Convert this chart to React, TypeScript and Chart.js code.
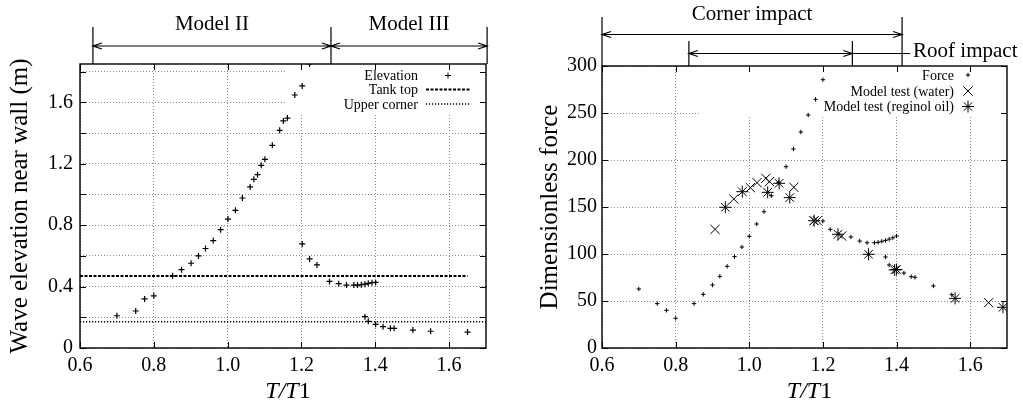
import React, { useEffect, useRef } from 'react';
import { Chart, registerables } from 'chart.js';
Chart.register(...registerables);

const FONT = "'Liberation Serif', 'Times New Roman', serif";

// ---------- shared axis ----------
const tRange = [0.6, 1.7];
const tTicks = [0.6, 0.8, 1.0, 1.2, 1.4, 1.6];

// ---------- left chart: wave elevation ----------
const elevTicks = [0, 0.2, 0.4, 0.6, 0.8, 1.0, 1.2, 1.4, 1.6, 1.8];
const elevLabelled = [0, 0.4, 0.8, 1.2, 1.6];
const elevRange = [0, 1.85];
const elevT = [0.70, 0.751, 0.775, 0.80, 0.851, 0.875, 0.901, 0.921, 0.940, 0.961, 0.981, 1.001, 1.021, 1.040, 1.061, 1.071, 1.081, 1.091, 1.101, 1.121, 1.141, 1.151, 1.162, 1.182, 1.202, 1.222, 1.202, 1.222, 1.242, 1.276, 1.301, 1.322, 1.342, 1.352, 1.362, 1.372, 1.381, 1.391, 1.401, 1.372, 1.381, 1.401, 1.421, 1.441, 1.451, 1.502, 1.55, 1.65];
const elevV = [0.21, 0.241, 0.32, 0.34, 0.47, 0.51, 0.552, 0.60, 0.648, 0.70, 0.771, 0.84, 0.897, 0.977, 1.049, 1.099, 1.129, 1.19, 1.229, 1.32, 1.418, 1.479, 1.498, 1.648, 1.707, 1.85, 0.678, 0.58, 0.541, 0.434, 0.419, 0.41, 0.41, 0.41, 0.412, 0.416, 0.421, 0.425, 0.427, 0.204, 0.174, 0.154, 0.139, 0.128, 0.128, 0.117, 0.109, 0.104];
const tankTopT = [0.6, 1.65];
const tankTopLevel = 0.469;
const upperCornerT = [0.6, 1.7];
const upperCornerLevel = 0.171;
const modelIIRange = [0.635, 1.28];
const modelIIIRange = [1.28, 1.703];

// ---------- right chart: dimensionless force ----------
const forceTicks = [0, 50, 100, 150, 200, 250, 300];
const forceRange = [0, 300];
const forceT = [0.70, 0.75, 0.775, 0.80, 0.85, 0.875, 0.90, 0.92, 0.94, 0.96, 0.98, 1.00, 1.02, 1.04, 1.06, 1.08, 1.10, 1.12, 1.14, 1.16, 1.18, 1.20, 1.20, 1.22, 1.276, 1.30, 1.32, 1.34, 1.35, 1.36, 1.37, 1.38, 1.39, 1.40, 1.37, 1.38, 1.42, 1.44, 1.45, 1.50, 1.55];
const forceV = [62.8, 47.2, 40.1, 31.6, 47.2, 57.1, 67, 76.2, 86.9, 97.2, 107.4, 118.8, 131.9, 145, 162, 176, 192.9, 211.7, 229.8, 247.9, 264.5, 285.4, 135.1, 126.2, 118.1, 113.8, 112, 112, 112.4, 113.5, 114.5, 115.8, 117.3, 119.1, 96.8, 88.3, 79.8, 75.9, 75.2, 66, 56.7];
const waterT = [0.907, 0.958, 1.003, 1.021, 1.045, 1.055, 1.121, 1.176, 1.185, 1.251, 1.65];
const waterV = [126.2, 158.5, 170.6, 175.9, 180.5, 177, 171, 135.4, 135.4, 119.1, 48.2];
const oilT = [0.935, 0.981, 1.05, 1.081, 1.11, 1.176, 1.241, 1.324, 1.395, 1.40, 1.559, 1.689];
const oilV = [149.7, 166.3, 165.6, 175.2, 160, 135.4, 121, 99.7, 83, 83.5, 52.8, 43.3];
const cornerRange = [0.6, 1.415];
const roofRange = [0.836, 1.28];

const pts = (xs: number[], ys: number[]) => xs.map((x, i) => ({ x, y: ys[i] }));

function marker(ctx: CanvasRenderingContext2D, style: string, x: number, y: number, r: number) {
  ctx.beginPath();
  if (style === 'cross' || style === 'star') {
    ctx.moveTo(x - r, y); ctx.lineTo(x + r, y);
    ctx.moveTo(x, y - r); ctx.lineTo(x, y + r);
  }
  if (style === 'crossRot' || style === 'star') {
    const d = r * Math.SQRT1_2;
    ctx.moveTo(x - d, y - d); ctx.lineTo(x + d, y + d);
    ctx.moveTo(x - d, y + d); ctx.lineTo(x + d, y - d);
  }
  ctx.stroke();
}

function arrow(ctx: CanvasRenderingContext2D, x1: number, x2: number, y: number) {
  const hl = 9, hw = 3;
  ctx.beginPath();
  ctx.moveTo(x1, y); ctx.lineTo(x2, y);
  ctx.moveTo(x1 + hl, y - hw); ctx.lineTo(x1, y); ctx.lineTo(x1 + hl, y + hw);
  ctx.moveTo(x2 - hl, y - hw); ctx.lineTo(x2, y); ctx.lineTo(x2 - hl, y + hw);
  ctx.stroke();
}

type LegendItem = { label: string; kind: string; r?: number; dash?: number[]; lw?: number };

type Cfg = {
  id: string;
  box: { w: number; h: number };
  legendTextRight: number; // offset from chartArea.right
  legendMarkerX: number; // offset from chartArea.right
  legendRows: number[]; // y offsets from chartArea.top
  legend: LegendItem[];
  yTitle: string;
  yTitleX: number;
  annotate: (chart: any) => void;
};

function makePlugin(cfg: Cfg) {
  return {
    id: 'frame_' + cfg.id,
    beforeDatasetsDraw(chart: any) {
      const { ctx, chartArea: a } = chart;
      ctx.save();
      ctx.fillStyle = '#ffffff';
      ctx.fillRect(a.right - cfg.box.w, a.top, cfg.box.w, cfg.box.h);
      ctx.restore();
    },
    afterDatasetsDraw(chart: any) {
      const { ctx, chartArea: a, scales } = chart;
      ctx.save();
      ctx.strokeStyle = '#000';
      ctx.lineWidth = 1;
      // inward ticks
      const tl = 6;
      ctx.beginPath();
      scales.x.ticks.forEach((t: any) => {
        const px = Math.round(scales.x.getPixelForValue(t.value)) + 0.5;
        ctx.moveTo(px, a.bottom); ctx.lineTo(px, a.bottom - tl);
        ctx.moveTo(px, a.top); ctx.lineTo(px, a.top + tl);
      });
      scales.y.ticks.forEach((t: any) => {
        const py = Math.round(scales.y.getPixelForValue(t.value)) + 0.5;
        ctx.moveTo(a.left, py); ctx.lineTo(a.left + tl, py);
        ctx.moveTo(a.right, py); ctx.lineTo(a.right - tl, py);
      });
      ctx.stroke();
      // border
      ctx.lineWidth = 1.4;
      ctx.strokeRect(a.left, a.top, a.right - a.left, a.bottom - a.top);
      // legend
      ctx.fillStyle = '#000';
      ctx.font = `14px ${FONT}`;
      ctx.textAlign = 'right';
      ctx.textBaseline = 'middle';
      cfg.legend.forEach((it, i) => {
        const y = a.top + cfg.legendRows[i];
        ctx.fillText(it.label, a.right + cfg.legendTextRight, y + 1);
        const mx = a.right + cfg.legendMarkerX;
        if (it.kind === 'line') {
          ctx.save();
          ctx.lineWidth = it.lw || 1;
          ctx.setLineDash(it.dash || []);
          ctx.beginPath();
          ctx.moveTo(mx - 22, y); ctx.lineTo(mx + 22, y);
          ctx.stroke();
          ctx.restore();
        } else {
          ctx.lineWidth = 1;
          marker(ctx, it.kind, mx, y, it.r || 3);
        }
      });
      ctx.restore();
    },
    afterDraw(chart: any) {
      const { ctx, chartArea: a } = chart;
      ctx.save();
      ctx.fillStyle = '#000';
      ctx.strokeStyle = '#000';
      // y title
      ctx.font = `25px ${FONT}`;
      ctx.textAlign = 'center';
      ctx.textBaseline = 'alphabetic';
      ctx.save();
      ctx.translate(cfg.yTitleX, (a.top + a.bottom) / 2);
      ctx.rotate(-Math.PI / 2);
      ctx.fillText(cfg.yTitle, 0, 0);
      ctx.restore();
      // x title T/T1
      const parts: [string, boolean][] = [['T/T', true], ['1', false]];
      let total = 0;
      parts.forEach(([s, it]) => {
        ctx.font = `${it ? 'italic ' : ''}24px ${FONT}`;
        total += ctx.measureText(s).width;
      });
      let x = (a.left + a.right) / 2 + 5 - total / 2;
      ctx.textAlign = 'left';
      parts.forEach(([s, it]) => {
        ctx.font = `${it ? 'italic ' : ''}24px ${FONT}`;
        ctx.fillText(s, x, 398);
        x += ctx.measureText(s).width;
      });
      cfg.annotate(chart);
      ctx.restore();
    },
  };
}

function baseOptions(yMin: number, yMax: number, yTicks: number[], yLabel: (v: number) => string, yPad: number, yWidth: number, padding: any) {
  return {
    responsive: false,
    animation: false as const,
    devicePixelRatio: 1,
    events: [] as any[],
    layout: { padding },
    plugins: { legend: { display: false }, tooltip: { enabled: false } },
    scales: {
      x: {
        type: 'linear' as const,
        min: tRange[0],
        max: tRange[1],
        afterBuildTicks: (s: any) => { s.ticks = tTicks.map((v) => ({ value: v })); },
        afterFit: (s: any) => { s.height = 55; },
        grid: { color: '#8a8a8a', lineWidth: 1, drawTicks: false },
        border: { display: false, dash: [1, 2] },
        ticks: {
          color: '#000',
          padding: 6,
          font: { family: FONT, size: 20 },
          callback: (v: any) => Number(v).toFixed(1),
        },
      },
      y: {
        type: 'linear' as const,
        min: yMin,
        max: yMax,
        afterBuildTicks: (s: any) => { s.ticks = yTicks.map((v) => ({ value: v })); },
        afterFit: (s: any) => { s.width = yWidth; },
        grid: { color: '#8a8a8a', lineWidth: 1, drawTicks: false },
        border: { display: false, dash: [1, 2] },
        ticks: {
          color: '#000',
          padding: yPad,
          font: { family: FONT, size: 20 },
          callback: (v: any) => yLabel(Number(v)),
        },
      },
    },
  };
}

function LeftChart() {
  const ref = useRef<HTMLCanvasElement>(null);
  useEffect(() => {
    const plugin = makePlugin({
      id: 'left',
      box: { w: 199, h: 51 },
      legendTextRight: -68,
      legendMarkerX: -38,
      legendRows: [11.5, 25.5, 40],
      legend: [
        { label: 'Elevation', kind: 'cross', r: 3 },
        { label: 'Tank top', kind: 'line', dash: [3, 1.5], lw: 1.8 },
        { label: 'Upper corner', kind: 'line', dash: [1.2, 1.8], lw: 1.4 },
      ],
      yTitle: 'Wave elevation near wall (m)',
      yTitleX: 27,
      annotate: (chart: any) => {
        const { ctx, chartArea: a, scales } = chart;
        const xs = scales.x;
        const p1 = xs.getPixelForValue(modelIIRange[0]);
        const p2 = xs.getPixelForValue(modelIIRange[1]);
        const p3 = xs.getPixelForValue(modelIIIRange[1]);
        ctx.lineWidth = 1.2;
        ctx.beginPath();
        [p1, p2, p3].forEach((p) => { ctx.moveTo(p, 27); ctx.lineTo(p, a.top); });
        ctx.stroke();
        arrow(ctx, p1, p2, 46);
        arrow(ctx, p2, p3, 46);
        ctx.font = `21px ${FONT}`;
        ctx.textAlign = 'center';
        ctx.textBaseline = 'alphabetic';
        ctx.fillText('Model II', (p1 + p2) / 2, 30);
        ctx.fillText('Model III', (p2 + p3) / 2, 30);
      },
    });
    const chart = new Chart(ref.current as HTMLCanvasElement, {
      type: 'scatter',
      data: {
        datasets: [
          {
            data: pts(elevT, elevV),
            pointStyle: 'cross',
            pointRadius: 3,
            borderColor: '#000',
            backgroundColor: '#000',
            pointBorderWidth: 1.2,
          },
          {
            type: 'line',
            data: pts(tankTopT, tankTopT.map(() => tankTopLevel)),
            borderColor: '#000',
            borderWidth: 1.8,
            borderDash: [3, 1.5],
            pointRadius: 0,
            fill: false,
          },
          {
            type: 'line',
            data: pts(upperCornerT, upperCornerT.map(() => upperCornerLevel)),
            borderColor: '#000',
            borderWidth: 1.4,
            borderDash: [1.2, 1.8],
            pointRadius: 0,
            fill: false,
          },
        ] as any,
      },
      options: baseOptions(
        elevRange[0], elevRange[1], elevTicks,
        (v) => (elevLabelled.some((l) => Math.abs(l - v) < 1e-6) ? (v === 0 ? '0' : v.toFixed(1)) : ''),
        7, 80, { top: 64, right: 25, left: 0, bottom: 0 }
      ) as any,
      plugins: [plugin],
    });
    return () => chart.destroy();
  }, []);
  return <canvas ref={ref} width={511} height={403} style={{ position: 'absolute', left: 0, top: 0, width: 511, height: 403 }} />;
}

function RightChart() {
  const ref = useRef<HTMLCanvasElement>(null);
  useEffect(() => {
    const plugin = makePlugin({
      id: 'right',
      box: { w: 307, h: 49 },
      legendTextRight: -53,
      legendMarkerX: -39,
      legendRows: [9, 25, 40.5],
      legend: [
        { label: 'Force', kind: 'cross', r: 2.2 },
        { label: 'Model test (water)', kind: 'crossRot', r: 6.5 },
        { label: 'Model test (reginol oil)', kind: 'star', r: 6 },
      ],
      yTitle: 'Dimensionless force',
      yTitleX: 46,
      annotate: (chart: any) => {
        const { ctx, chartArea: a, scales } = chart;
        const xs = scales.x;
        const c1 = xs.getPixelForValue(cornerRange[0]);
        const c2 = xs.getPixelForValue(cornerRange[1]);
        const r1 = xs.getPixelForValue(roofRange[0]);
        const r2 = xs.getPixelForValue(roofRange[1]);
        ctx.lineWidth = 1.2;
        ctx.beginPath();
        [c1, c2].forEach((p) => { ctx.moveTo(p, 17); ctx.lineTo(p, a.top); });
        [r1, r2].forEach((p) => { ctx.moveTo(p, 41); ctx.lineTo(p, a.top); });
        ctx.moveTo(r2, 53.5); ctx.lineTo(c2 + 8, 53.5);
        ctx.stroke();
        arrow(ctx, c1, c2, 34.5);
        arrow(ctx, r1, r2, 53.5);
        ctx.font = `21px ${FONT}`;
        ctx.textAlign = 'center';
        ctx.textBaseline = 'alphabetic';
        ctx.fillText('Corner impact', (c1 + c2) / 2, 20);
        ctx.textAlign = 'left';
        ctx.fillText('Roof impact', c2 + 11, 57);
      },
    });
    const chart = new Chart(ref.current as HTMLCanvasElement, {
      type: 'scatter',
      data: {
        datasets: [
          {
            data: pts(forceT, forceV),
            pointStyle: 'cross',
            pointRadius: 2.2,
            borderColor: '#000',
            backgroundColor: '#000',
            pointBorderWidth: 1,
          },
          {
            data: pts(waterT, waterV),
            pointStyle: 'crossRot',
            pointRadius: 6.5,
            borderColor: '#000',
            backgroundColor: '#000',
            pointBorderWidth: 1,
          },
          {
            data: pts(oilT, oilV),
            pointStyle: 'star',
            pointRadius: 6,
            borderColor: '#000',
            backgroundColor: '#000',
            pointBorderWidth: 1,
          },
        ] as any,
      },
      options: baseOptions(
        forceRange[0], forceRange[1], forceTicks,
        (v) => String(v),
        5, 91, { top: 66, right: 16, left: 0, bottom: 0 }
      ) as any,
      plugins: [plugin],
    });
    return () => chart.destroy();
  }, []);
  return <canvas ref={ref} width={512} height={403} style={{ position: 'absolute', left: 511, top: 0, width: 512, height: 403 }} />;
}

export default function App() {
  return (
    <div style={{ position: 'absolute', left: 0, top: 0, width: 1023, height: 403, background: '#fff', overflow: 'hidden' }}>
      <LeftChart />
      <RightChart />
    </div>
  );
}
